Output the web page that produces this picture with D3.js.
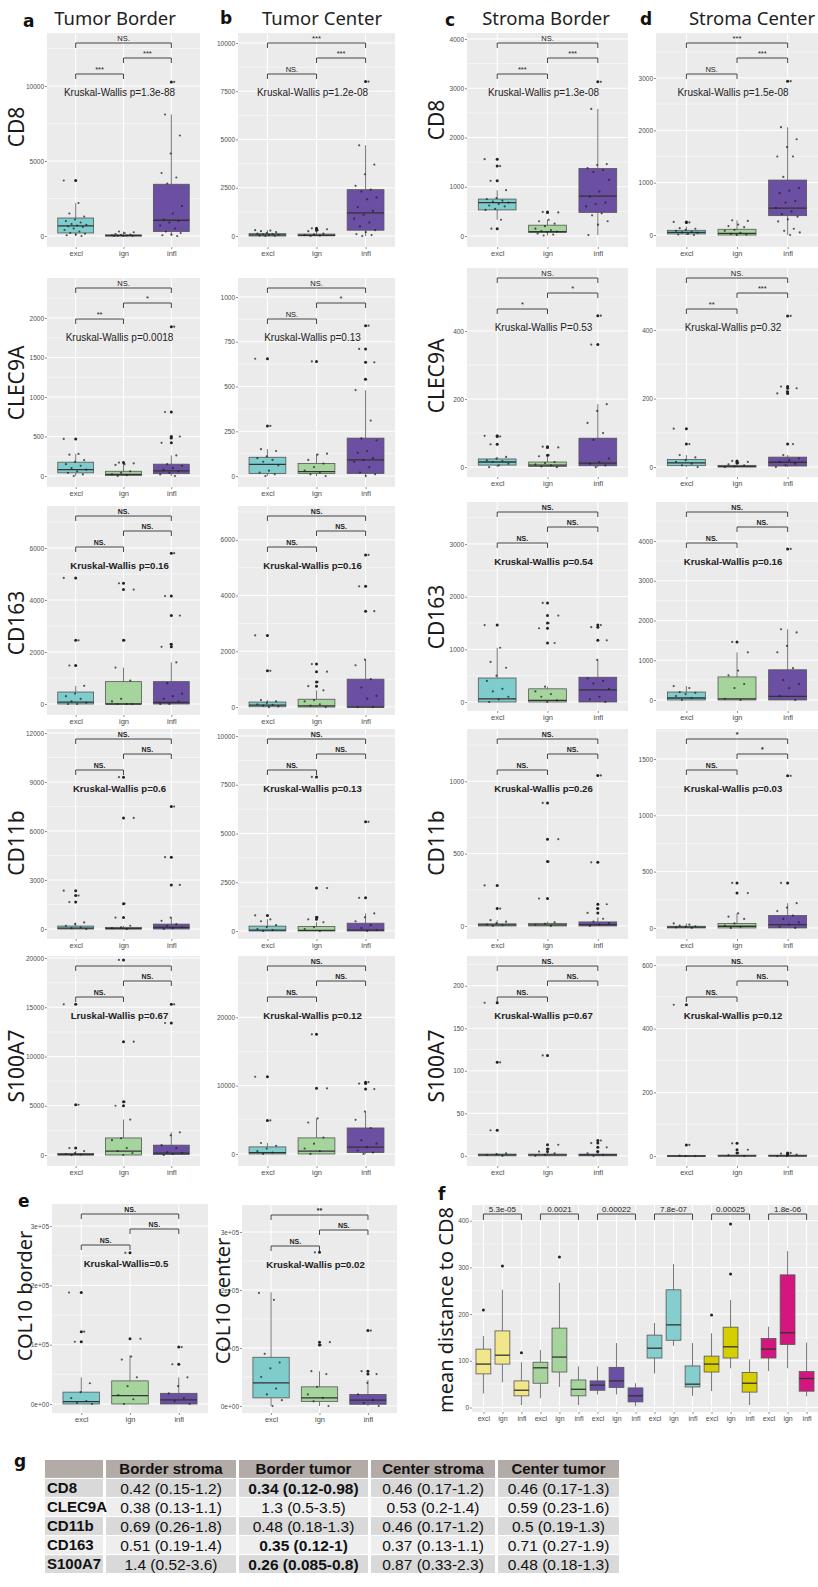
<!DOCTYPE html>
<html>
<head>
<meta charset="utf-8">
<script src="https://cdn.jsdelivr.net/npm/d3@7"></script>
<style>
  body { margin: 0; background: #fff; }
  svg text { font-family: "Liberation Sans", Arial, sans-serif; }
</style>
</head>
<body>
<div id="chart"></div>
<script>
const groups = ["excl", "ign", "infl"];
const groupColors = ["#7fcccc", "#a6d49d", "#6a4fa2"];

// box stats per group: [lower whisker, q1, median, q3, upper whisker]
// CD8
const cd8TBBox = [[0, 200, 670, 1200, 2200], [0, 0, 30, 80, 300], [0, 300, 1050, 3450, 8100]];
const cd8TBPts = [[3700, 2200, 1500, 1300, 1100, 1000, 900, 800, 750, 700, 650, 600, 500, 400, 300, 200, 150, 100, 50, 0],
                  [300, 250, 200, 120, 100, 80, 50, 30, 20, 10, 0, 0],
                  [10270, 8100, 6700, 5500, 4200, 3900, 3500, 2000, 1500, 1100, 1000, 900, 700, 500, 300, 200, 100, 50, 0]];
const cd8TCBox = [[0, 0, 60, 120, 300], [0, 10, 40, 100, 250], [0, 300, 1200, 2400, 4700]];
const cd8TCPts = [[300, 280, 250, 200, 150, 120, 100, 80, 60, 50, 30, 10, 0],
                  [400, 350, 300, 250, 120, 80, 50, 20, 0],
                  [8000, 4700, 3700, 3200, 2600, 2400, 2300, 2000, 1900, 1500, 1300, 1100, 900, 700, 500, 300, 200, 100, 50, 0]];
const cd8SBBox = [[330, 530, 680, 750, 930], [10, 70, 90, 220, 330], [20, 480, 810, 1370, 2580]];
const cd8SBPts = [[1560, 1420, 1120, 930, 770, 750, 720, 700, 680, 650, 620, 600, 550, 530, 330, 150],
                  [490, 480, 330, 300, 250, 200, 150, 120, 100, 90, 80, 50, 30, 10],
                  [3130, 2580, 1460, 1440, 1380, 1340, 1300, 1140, 900, 800, 680, 650, 600, 460, 420, 300, 230, 20]];
const cd8SCBox = [[0, 20, 50, 90, 160], [0, 0, 30, 110, 280], [0, 370, 515, 1050, 2060]];
const cd8SCPts = [[250, 240, 130, 120, 100, 80, 60, 50, 40, 20, 10, 0],
                  [280, 270, 200, 170, 150, 100, 80, 40, 20, 10, 0],
                  [2940, 2060, 1830, 1680, 1500, 1500, 1110, 900, 850, 800, 650, 620, 520, 450, 400, 350, 300, 260, 120, 80, 50, 0]];
// CLEC9A
const clecTBBox = [[0, 40, 80, 175, 280], [0, 5, 20, 60, 160], [0, 30, 65, 150, 260]];
const clecTBPts = [[470, 280, 270, 200, 180, 150, 130, 100, 80, 60, 40, 20, 0],
                   [170, 160, 150, 140, 60, 40, 20, 10, 0],
                   [1890, 810, 500, 480, 420, 260, 150, 130, 100, 80, 60, 40, 20, 0]];
const clecTCBox = [[0, 15, 65, 105, 150], [0, 15, 25, 70, 125], [0, 15, 90, 212, 480]];
const clecTCPts = [[655, 280, 150, 140, 110, 100, 90, 80, 60, 30, 20, 10, 0],
                   [640, 125, 120, 90, 70, 50, 30, 20, 10, 0],
                   [840, 710, 635, 540, 480, 310, 210, 200, 140, 130, 100, 90, 80, 50, 20, 10, 0]];
const clecSBBox = [[0, 6, 15, 24, 30], [0, 2, 6, 15, 32], [0, 4, 12, 85, 185]];
const clecSBPts = [[92, 90, 67, 30, 25, 20, 18, 15, 10, 5, 0],
                   [60, 58, 35, 32, 15, 12, 8, 5, 2, 0],
                   [445, 360, 185, 165, 130, 100, 80, 25, 15, 10, 5, 0]];
const clecSCBox = [[0, 4, 12, 22, 35], [0, 0, 2, 5, 10], [0, 3, 14, 29, 35]];
const clecSCPts = [[112, 67, 35, 28, 20, 15, 10, 5, 0],
                   [18, 15, 12, 8, 5, 2, 0],
                   [441, 235, 230, 220, 215, 67, 35, 25, 20, 15, 10, 5, 0]];
// CD163
const cd163TBBox = [[0, 0, 75, 460, 700], [0, 0, 0, 860, 1400], [0, 0, 60, 860, 1600]];
const cd163TBPts = [[4850, 2450, 1480, 700, 400, 300, 200, 100, 50, 0, 0],
                    [4640, 4400, 2450, 1400, 900, 200, 100, 0, 0, 0],
                    [5800, 4150, 3400, 2300, 2200, 1600, 800, 400, 300, 200, 100, 0, 0]];
const cd163TCBox = [[0, 10, 70, 180, 250], [0, 0, 40, 280, 600], [0, 0, 0, 1000, 1700]];
const cd163TCPts = [[2570, 1300, 250, 200, 150, 100, 80, 50, 20, 0],
                    [1540, 1270, 900, 750, 600, 250, 200, 100, 50, 0],
                    [5460, 4330, 3440, 1700, 1500, 1000, 700, 400, 300, 0, 0]];
const cd163SBBox = [[0, 0, 60, 455, 1030], [0, 0, 30, 250, 290], [0, 0, 230, 470, 800]];
const cd163SBPts = [[1460, 1030, 760, 650, 500, 400, 250, 200, 100, 50, 0],
                    [1880, 1640, 1500, 1400, 1120, 290, 200, 150, 100, 30, 0],
                    [1460, 1420, 1170, 800, 450, 400, 350, 250, 100, 50, 0]];
const cd163SCBox = [[0, 0, 50, 200, 350], [0, 0, 30, 580, 1200], [0, 0, 90, 760, 1780]];
const cd163SCPts = [[350, 300, 200, 180, 150, 100, 50, 0],
                    [1460, 1200, 740, 620, 400, 300, 30, 0],
                    [3800, 1780, 1700, 1360, 1200, 800, 500, 400, 300, 100, 0]];
// CD11b
const cd11bTBBox = [[0, 0, 50, 180, 400], [0, 0, 30, 100, 200], [0, 0, 100, 300, 700]];
const cd11bTBPts = [[2350, 2050, 1650, 400, 300, 200, 100, 50, 0],
                    [9300, 6800, 1550, 700, 200, 100, 50, 0],
                    [7500, 4400, 2700, 700, 500, 300, 200, 100, 50, 0]];
const cd11bTCBox = [[0, 0, 50, 250, 600], [0, 0, 30, 230, 450], [0, 0, 50, 400, 900]];
const cd11bTCPts = [[800, 600, 500, 300, 200, 100, 50, 0],
                    [7900, 2200, 700, 600, 450, 200, 100, 0],
                    [5600, 1700, 900, 700, 500, 300, 150, 50, 0]];
const cd11bSBBox = [[0, 0, 8, 15, 40], [0, 0, 8, 18, 30], [0, 0, 10, 28, 60]];
const cd11bSBPts = [[280, 120, 40, 30, 20, 10, 5, 0],
                    [850, 600, 445, 190, 25, 15, 8, 0],
                    [1040, 440, 150, 120, 90, 50, 30, 20, 10, 0]];
const cd11bSCBox = [[0, 0, 8, 15, 40], [0, 0, 15, 40, 130], [0, 0, 30, 110, 220]];
const cd11bSCPts = [[40, 30, 20, 15, 10, 5, 0],
                    [400, 310, 130, 100, 80, 40, 20, 10, 0],
                    [1350, 400, 220, 180, 150, 110, 80, 50, 30, 10, 0]];
// S100A7
const s100TBBox = [[0, 0, 50, 150, 400], [0, 0, 400, 1730, 3600], [0, 50, 200, 1000, 2300]];
const s100TBPts = [[15300, 5100, 700, 400, 200, 100, 50, 0],
                   [19800, 11500, 5400, 5000, 3600, 1700, 1500, 700, 400, 200, 0],
                   [15300, 13400, 2300, 2000, 1000, 700, 300, 200, 100, 0]];
const s100TCBox = [[0, 0, 200, 1030, 1600], [0, 0, 400, 2350, 5200], [0, 200, 1000, 3800, 6200]];
const s100TCPts = [[11300, 4900, 1600, 1200, 800, 400, 200, 0],
                   [17500, 9600, 5200, 4600, 2400, 1500, 800, 400, 0],
                   [10500, 10300, 9500, 6200, 5000, 3800, 2000, 1500, 1000, 500, 200, 0]];
const s100SBBox = [[0, 0, 1, 2, 3], [0, 0, 1, 2, 4], [0, 0, 1, 2, 4]];
const s100SBPts = [[180, 110, 30, 3, 2, 1, 0],
                   [118, 13, 8, 5, 3, 1, 0],
                   [18, 15, 10, 5, 3, 1, 0]];
const s100SCBox = [[0, 0, 0, 2, 2], [0, 0, 1, 3, 3], [0, 0, 1, 3, 3]];
const s100SCPts = [[475, 35, 2, 0, 0], [40, 20, 10, 3, 0], [10, 8, 5, 0, 0]];
// COL10
const col10BBox = [[0, 0, 4000, 20000, 45000], [0, 0, 14000, 39000, 82000], [0, 0, 7000, 18000, 45000]];
const col10BPts = [[188000, 122000, 105000, 35000, 20000, 10000, 5000, 2000, 0],
                   [255000, 110000, 80000, 75000, 45000, 30000, 15000, 8000, 0],
                   [96000, 67000, 45000, 30000, 18000, 10000, 5000, 0]];
const col10CBox = [[0, 14000, 40000, 84000, 196000], [0, 8000, 14000, 33000, 60000], [0, 3000, 10000, 20000, 45000]];
const col10CPts = [[195000, 183000, 90000, 75000, 65000, 50000, 30000, 20000, 10000, 0],
                   [265000, 110000, 105000, 60000, 55000, 33000, 20000, 14000, 8000, 0],
                   [130000, 60000, 55000, 40000, 20000, 10000, 5000, 0]];

// panel f: mean distance to CD8
const fLabels = ["excl", "ign", "infl", "excl", "ign", "infl", "excl", "ign", "infl",
                 "excl", "ign", "infl", "excl", "ign", "infl", "excl", "ign", "infl"];
const fColors = ["#f2e68a", "#a7d49d", "#6a4fa2", "#86cdcd", "#d6ce00", "#d3177f"];
const fBox = [[30, 72, 93, 125, 153], [54, 93, 112, 164, 252], [5, 25, 37, 57, 97],
              [20, 52, 85, 97, 123], [44, 76, 108, 170, 267], [5, 25, 39, 59, 88],
              [28, 37, 48, 57, 88], [28, 43, 57, 86, 138], [3, 12, 25, 42, 52],
              [73, 106, 127, 155, 181], [132, 144, 177, 252, 307], [25, 44, 50, 89, 138],
              [35, 76, 93, 110, 159], [84, 106, 130, 172, 230], [5, 33, 52, 75, 103],
              [78, 106, 125, 148, 173], [84, 135, 160, 284, 335], [24, 35, 62, 77, 139]];
const fOutliers = [[209], [303], [117], [], [322], [], [], [], [], [], [], [], [198], [286, 393], [], [], [], []];
const fPvalues = ["5.3e-05", "0.0021", "0.00022", "7.8e-07", "0.00025", "1.8e-06"];
const fTicks = [0, 100, 200, 300, 400];

// table g
const tableCols = ["", "Border stroma", "Border tumor", "Center stroma", "Center tumor"];
const tableRows = ["CD8", "CLEC9A", "CD11b", "CD163", "S100A7"];
const tableValues = [
  ["0.42 (0.15-1.2)", "0.34 (0.12-0.98)", "0.46 (0.17-1.2)", "0.46 (0.17-1.3)"],
  ["0.38 (0.13-1.1)", "1.3 (0.5-3.5)", "0.53 (0.2-1.4)", "0.59 (0.23-1.6)"],
  ["0.69 (0.26-1.8)", "0.48 (0.18-1.3)", "0.46 (0.17-1.2)", "0.5 (0.19-1.3)"],
  ["0.51 (0.19-1.4)", "0.35 (0.12-1)", "0.37 (0.13-1.1)", "0.71 (0.27-1.9)"],
  ["1.4 (0.52-3.6)", "0.26 (0.085-0.8)", "0.87 (0.33-2.3)", "0.48 (0.18-1.3)"]
];
const tableBold = [["CD8", "Border tumor"], ["CD163", "Border tumor"], ["S100A7", "Border tumor"]];

const regionTitles = ["Tumor Border", "Tumor Center", "Stroma Border", "Stroma Center"];
const rowMarkers = ["CD8", "CLEC9A", "CD163", "CD11b", "S100A7"];

// layout
const colX = [[47, 200], [238, 395], [467, 628], [656, 818]];
const rowYL = [[33, 247], [278, 487], [506, 715], [729, 939], [956, 1166]];
const rowYR = [[33, 247], [268, 477], [502, 711], [729, 939], [956, 1166]];

const panels = [
  { c: 0, r: 0, box: cd8TBBox, pts: cd8TBPts, dom: [-733, 13533], ticks: [0, 5000, 10000], kw: "Kruskal-Wallis p=1.3e-88", sig: ["NS.", "***", "***"] },
  { c: 1, r: 0, box: cd8TCBox, pts: cd8TCPts, dom: [-570, 10518], ticks: [0, 2500, 5000, 7500, 10000], kw: "Kruskal-Wallis p=1.2e-08", sig: ["***", "***", "NS."] },
  { c: 2, r: 0, box: cd8SBBox, pts: cd8SBPts, dom: [-223, 4122], ticks: [0, 1000, 2000, 3000, 4000], kw: "Kruskal-Wallis p=1.3e-08", sig: ["NS.", "***", "***"] },
  { c: 3, r: 0, box: cd8SCBox, pts: cd8SCPts, dom: [-229, 3860], ticks: [0, 1000, 2000, 3000], kw: "Kruskal-Wallis p=1.5e-08", sig: ["***", "***", "NS."] },
  { c: 0, r: 1, box: clecTBBox, pts: clecTBPts, dom: [-139, 2506], ticks: [0, 500, 1000, 1500, 2000], kw: "Kruskal-Wallis p=0.0018", sig: ["NS.", "*", "**"] },
  { c: 1, r: 1, box: clecTCBox, pts: clecTCPts, dom: [-61, 1106], ticks: [0, 250, 500, 750, 1000], kw: "Kruskal-Wallis p=0.13", sig: ["NS.", "*", "NS."] },
  { c: 2, r: 1, box: clecSBBox, pts: clecSBPts, dom: [-29, 585], ticks: [0, 200, 400], kw: "Kruskal-Wallis P=0.53", sig: ["NS.", "*", "*"] },
  { c: 3, r: 1, box: clecSCBox, pts: clecSCPts, dom: [-29, 581], ticks: [0, 200, 400], kw: "Kruskal-Wallis p=0.32", sig: ["NS.", "***", "**"] },
  { c: 0, r: 2, box: cd163TBBox, pts: cd163TBPts, dom: [-423, 7615], ticks: [0, 2000, 4000, 6000], kw: "Kruskal-Wallis p=0.16", sig: ["NS.", "NS.", "NS."] },
  { c: 1, r: 2, box: cd163TCBox, pts: cd163TCPts, dom: [-286, 7214], ticks: [0, 2000, 4000, 6000], kw: "Kruskal-Wallis p=0.16", sig: ["NS.", "NS.", "NS."] },
  { c: 2, r: 2, box: cd163SBBox, pts: cd163SBPts, dom: [-171, 3797], ticks: [0, 1000, 2000, 3000], kw: "Kruskal-Wallis p=0.54", sig: ["NS.", "NS.", "NS."] },
  { c: 3, r: 2, box: cd163SCBox, pts: cd163SCPts, dom: [-277, 4981], ticks: [0, 1000, 2000, 3000, 4000], kw: "Kruskal-Wallis p=0.16", sig: ["NS.", "NS.", "NS."] },
  { c: 0, r: 3, box: cd11bTBBox, pts: cd11bTBPts, dom: [-612, 12247], ticks: [0, 3000, 6000, 9000, 12000], kw: "Kruskal-Wallis p=0.6", sig: ["NS.", "NS.", "NS."] },
  { c: 1, r: 3, box: cd11bTCBox, pts: cd11bTCPts, dom: [-410, 10359], ticks: [0, 2500, 5000, 7500, 10000], kw: "Kruskal-Wallis p=0.13", sig: ["NS.", "NS.", "NS."] },
  { c: 2, r: 3, box: cd11bSBBox, pts: cd11bSBPts, dom: [-90, 1361], ticks: [0, 500, 1000], kw: "Kruskal-Wallis p=0.26", sig: ["NS.", "NS.", "NS."] },
  { c: 3, r: 3, box: cd11bSCBox, pts: cd11bSCPts, dom: [-98, 1766], ticks: [0, 500, 1000, 1500], kw: "Kruskal-Wallis p=0.03", sig: ["*", "*", "NS."] },
  { c: 0, r: 4, box: s100TBBox, pts: s100TBPts, dom: [-1117, 20203], ticks: [0, 5000, 10000, 15000, 20000], kw: "Lruskal-Wallis p=0.67", sig: ["", "NS.", "NS."] },
  { c: 1, r: 4, box: s100TCBox, pts: s100TCPts, dom: [-1765, 28971], ticks: [0, 10000, 20000], kw: "Kruskal-Wallis p=0.12", sig: ["NS.", "NS.", "NS."] },
  { c: 2, r: 4, box: s100SBBox, pts: s100SBPts, dom: [-12, 235], ticks: [0, 50, 100, 150, 200], kw: "Kruskal-Wallis p=0.67", sig: ["NS.", "NS.", "NS."] },
  { c: 3, r: 4, box: s100SCBox, pts: s100SCPts, dom: [-31, 628], ticks: [0, 200, 400, 600], kw: "Kruskal-Wallis p=0.12", sig: ["NS.", "NS.", "NS."] }
];

const sciFmt = v => v === 0 ? "0e+00" : (v / 1e5) + "e+05";
const colPanels = [
  { x: [52, 208], y: [1204, 1413], box: col10BBox, pts: col10BPts, dom: [-15177, 337268], ticks: [0, 1e5, 2e5, 3e5], fmt: sciFmt, kw: "Kruskal-Wallis=0.5", sig: ["NS.", "NS.", "NS."], bold: true },
  { x: [242, 397], y: [1205, 1413], box: col10CBox, pts: col10CPts, dom: [-12069, 346552], ticks: [0, 1e5, 2e5, 3e5], fmt: sciFmt, kw: "Kruskal-Wallis p=0.02", sig: ["**", "NS.", "NS."], bold: true }
];

const svg = d3.select("#chart").append("svg").attr("width", 818).attr("height", 1587);

function styleAxis(g, size) {
  g.select(".domain").remove();
  g.selectAll(".tick line").attr("stroke", "#444").attr("stroke-width", 0.6);
  g.selectAll(".tick text").attr("fill", "#4d4d4d").style("font-size", size + "px")
    .style("font-family", "'Liberation Sans', Arial, sans-serif");
}

function drawGrid(g, x0, x1, y, ticks, xs) {
  const step = ticks[1] - ticks[0];
  const [lo, hi] = y.domain();
  const minors = d3.range(ticks[0] - step / 2, hi, step).filter(v => v > lo && v < hi);
  g.selectAll(".mn").data(minors).join("line")
    .attr("x1", x0).attr("x2", x1).attr("y1", d => y(d)).attr("y2", d => y(d))
    .attr("stroke", "#fff").attr("stroke-width", 0.5);
  g.selectAll(".mj").data(ticks).join("line")
    .attr("x1", x0).attr("x2", x1).attr("y1", d => y(d)).attr("y2", d => y(d))
    .attr("stroke", "#fff").attr("stroke-width", 1);
  g.selectAll(".vx").data(xs).join("line")
    .attr("x1", d => d).attr("x2", d => d).attr("y1", y.range()[1]).attr("y2", y.range()[0])
    .attr("stroke", "#fff").attr("stroke-width", 1);
}

function drawBox(g, cx, bw, y, s, fill, stroke) {
  const [lo, q1, med, q3, hi] = s;
  g.append("line").attr("x1", cx).attr("x2", cx).attr("y1", y(hi)).attr("y2", y(q3))
    .attr("stroke", stroke).attr("stroke-width", 0.8);
  g.append("line").attr("x1", cx).attr("x2", cx).attr("y1", y(q1)).attr("y2", y(lo))
    .attr("stroke", stroke).attr("stroke-width", 0.8);
  g.append("rect").attr("x", cx - bw / 2).attr("width", bw)
    .attr("y", y(q3)).attr("height", Math.max(0.8, y(q1) - y(q3)))
    .attr("fill", fill).attr("stroke", stroke).attr("stroke-width", 0.8);
  g.append("line").attr("x1", cx - bw / 2).attr("x2", cx + bw / 2).attr("y1", y(med)).attr("y2", y(med))
    .attr("stroke", "#333").attr("stroke-width", 1.3);
}

function smallPanel(x0, x1, y0, y1, p) {
  const g = svg.append("g");
  const x = d3.scalePoint().domain(groups).range([x0, x1]).padding(0.6);
  const y = d3.scaleLinear().domain(p.dom).range([y1, y0]);
  const step = x.step();
  g.append("rect").attr("x", x0).attr("y", y0).attr("width", x1 - x0).attr("height", y1 - y0).attr("fill", "#ebebeb");
  drawGrid(g, x0, x1, y, p.ticks, groups.map(d => x(d)));

  groups.forEach((grp, i) => {
    const cx = x(grp);
    const s = p.box[i];
    drawBox(g, cx, step * 0.75, y, s, groupColors[i], "#555");
    // outliers at the box centre
    g.selectAll(null).data(p.pts[i].filter(v => v > s[4] || v < s[0])).join("circle")
      .attr("cx", cx).attr("cy", d => y(d)).attr("r", 1.5).attr("fill", "#222");
    // jittered points (deterministic spread)
    g.selectAll(null).data(p.pts[i]).join("circle")
      .attr("cx", (d, j) => cx + (((j * 0.618034 + i * 0.31) % 1) - 0.5) * step * 0.5)
      .attr("cy", d => y(d)).attr("r", 1.1).attr("fill", "#222").attr("opacity", 0.75);
  });

  const fmt = p.fmt || (d => d);
  const ya = g.append("g").attr("transform", `translate(${x0},0)`)
    .call(d3.axisLeft(y).tickValues(p.ticks).tickSize(2).tickPadding(1).tickFormat(fmt));
  styleAxis(ya, 6.5);
  const xa = g.append("g").attr("transform", `translate(0,${y1})`)
    .call(d3.axisBottom(x).tickSize(2).tickPadding(2));
  styleAxis(xa, 7.5);

  const heavy = p.bold || p.r >= 2;
  // significance brackets
  const pairs = [["excl", "infl"], ["ign", "infl"], ["excl", "ign"]];
  const offs = [10, 25, 41];
  pairs.forEach((pr, k) => {
    const by = y0 + offs[k];
    const xa1 = x(pr[0]), xa2 = x(pr[1]);
    g.append("path").attr("d", `M${xa1},${by + 5}V${by}H${xa2}V${by + 5}`)
      .attr("fill", "none").attr("stroke", "#333").attr("stroke-width", 0.9);
    g.append("text").attr("x", (xa1 + xa2) / 2).attr("y", by - 2.5).attr("text-anchor", "middle")
      .style("font-size", heavy ? "7px" : "7.5px").style("font-weight", heavy ? "bold" : "normal")
      .attr("fill", "#222").text(p.sig[k]);
  });
  g.append("text").attr("x", (x0 + x1) / 2 - 4).attr("y", y0 + 63).attr("text-anchor", "middle")
    .style("font-size", heavy ? "9.6px" : "10px").style("font-weight", heavy ? "bold" : "normal")
    .attr("fill", "#222").text(p.kw);
}

panels.forEach(p => {
  const [x0, x1] = colX[p.c];
  const [y0, y1] = (p.c < 2 ? rowYL : rowYR)[p.r];
  smallPanel(x0, x1, y0, y1, p);
});
colPanels.forEach(p => smallPanel(p.x[0], p.x[1], p.y[0], p.y[1], p));

// titles and panel letters
const titleX = [115, 322, 546, 752];
regionTitles.forEach((t, i) => {
  svg.append("text").attr("x", titleX[i]).attr("y", 25).attr("text-anchor", "middle")
    .style("font-family", "'Noto Sans', sans-serif").style("font-size", "18.5px").attr("fill", "#222").text(t);
});
const letters = [["a", 23, 27], ["b", 220, 24], ["c", 445, 26], ["d", 640, 25], ["e", 18, 1207], ["f", 438, 1200], ["g", 14, 1467]];
letters.forEach(([t, lx, ly]) => {
  svg.append("text").attr("x", lx).attr("y", ly)
    .style("font-family", "'DejaVu Sans', sans-serif").style("font-weight", "bold").style("font-size", "17px")
    .attr("fill", "#111").text(t);
});

// row labels
const labelYL = [127, 383, 623, 843, 1066];
const labelYR = [120, 376, 617, 843, 1066];
function yLabel(text, bx, cy, size) {
  svg.append("text").attr("transform", `translate(${bx},${cy}) rotate(-90)`).attr("text-anchor", "middle")
    .style("font-family", "'Noto Sans', sans-serif").style("font-size", size + "px").attr("fill", "#1a1a1a").text(text);
}
rowMarkers.forEach((m, i) => {
  yLabel(m, 24, labelYL[i], 21);
  yLabel(m, 444, labelYR[i], 21);
});
yLabel("COL10 border", 32, 1296, 20);
yLabel("COL10 center", 230, 1301, 20);
yLabel("mean distance to CD8", 453, 1310, 20);

// panel f
(function () {
  const x0 = 472, x1 = 818, y0 = 1205, y1 = 1412;
  const g = svg.append("g");
  const idx = d3.range(fLabels.length);
  const x = d3.scalePoint().domain(idx).range([x0, x1]).padding(0.6);
  const y = d3.scaleLinear().domain([-9.6, 433.6]).range([y1, y0]);
  const step = x.step();
  g.append("rect").attr("x", x0).attr("y", y0).attr("width", x1 - x0).attr("height", y1 - y0).attr("fill", "#ebebeb");
  drawGrid(g, x0, x1, y, fTicks, idx.map(d => x(d)));
  idx.forEach(i => {
    const cx = x(i);
    drawBox(g, cx, step * 0.78, y, fBox[i], fColors[Math.floor(i / 3)], "#555");
    g.selectAll(null).data(fOutliers[i]).join("circle")
      .attr("cx", cx).attr("cy", d => y(d)).attr("r", 1.5).attr("fill", "#222");
  });
  const ya = g.append("g").attr("transform", `translate(${x0},0)`)
    .call(d3.axisLeft(y).tickValues(fTicks).tickSize(2).tickPadding(1));
  styleAxis(ya, 6.5);
  const xa = g.append("g").attr("transform", `translate(0,${y1})`)
    .call(d3.axisBottom(x).tickSize(2).tickPadding(2).tickFormat(i => fLabels[i]));
  styleAxis(xa, 7);
  fPvalues.forEach((pv, k) => {
    const xa1 = x(k * 3), xa2 = x(k * 3 + 2), by = 1214;
    g.append("path").attr("d", `M${xa1},${by + 6}V${by}H${xa2}V${by + 6}`)
      .attr("fill", "none").attr("stroke", "#333").attr("stroke-width", 0.9);
    g.append("text").attr("x", (xa1 + xa2) / 2).attr("y", by - 2).attr("text-anchor", "middle")
      .style("font-size", "8px").attr("fill", "#222").text(pv);
  });
})();

// table g
(function () {
  const colW = [58, 130, 129, 124, 121];
  const colStart = [45];
  colW.forEach((w, i) => { if (i) colStart.push(colStart[i - 1] + colW[i - 1] + 3); });
  const rowBand = d3.scaleBand().domain(["header"].concat(tableRows)).range([1460, 1573]).paddingInner(0.06);
  const rowFill = ["#d9d9d9", "#eeeeee", "#d9d9d9", "#eeeeee", "#d9d9d9"];
  const g = svg.append("g").style("font-family", "Lato, 'Open Sans', sans-serif");
  const isBold = (r, c) => tableBold.some(b => b[0] === r && b[1] === c);

  tableCols.forEach((c, j) => {
    g.append("rect").attr("x", colStart[j]).attr("y", rowBand("header")).attr("width", colW[j])
      .attr("height", rowBand.bandwidth()).attr("fill", "#b2aba8");
    g.append("text").attr("x", colStart[j] + colW[j] / 2).attr("y", rowBand("header") + rowBand.bandwidth() / 2)
      .attr("dy", "0.36em").attr("text-anchor", "middle").style("font-size", "15px").style("font-weight", "bold")
      .attr("fill", "#111").text(c);
  });
  tableRows.forEach((r, i) => {
    const ry = rowBand(r), h = rowBand.bandwidth();
    tableCols.forEach((c, j) => {
      g.append("rect").attr("x", colStart[j]).attr("y", ry).attr("width", colW[j]).attr("height", h).attr("fill", rowFill[i]);
    });
    g.append("text").attr("x", colStart[0] + 2).attr("y", ry + h / 2).attr("dy", "0.36em")
      .style("font-size", "15px").style("font-weight", "bold").attr("fill", "#111").text(r);
    tableValues[i].forEach((v, j) => {
      g.append("text").attr("x", colStart[j + 1] + colW[j + 1] / 2).attr("y", ry + h / 2).attr("dy", "0.36em")
        .attr("text-anchor", "middle").style("font-size", "15.5px")
        .style("font-weight", isBold(r, tableCols[j + 1]) ? "bold" : "normal").attr("fill", "#111").text(v);
    });
  });
})();
</script>
</body>
</html>
